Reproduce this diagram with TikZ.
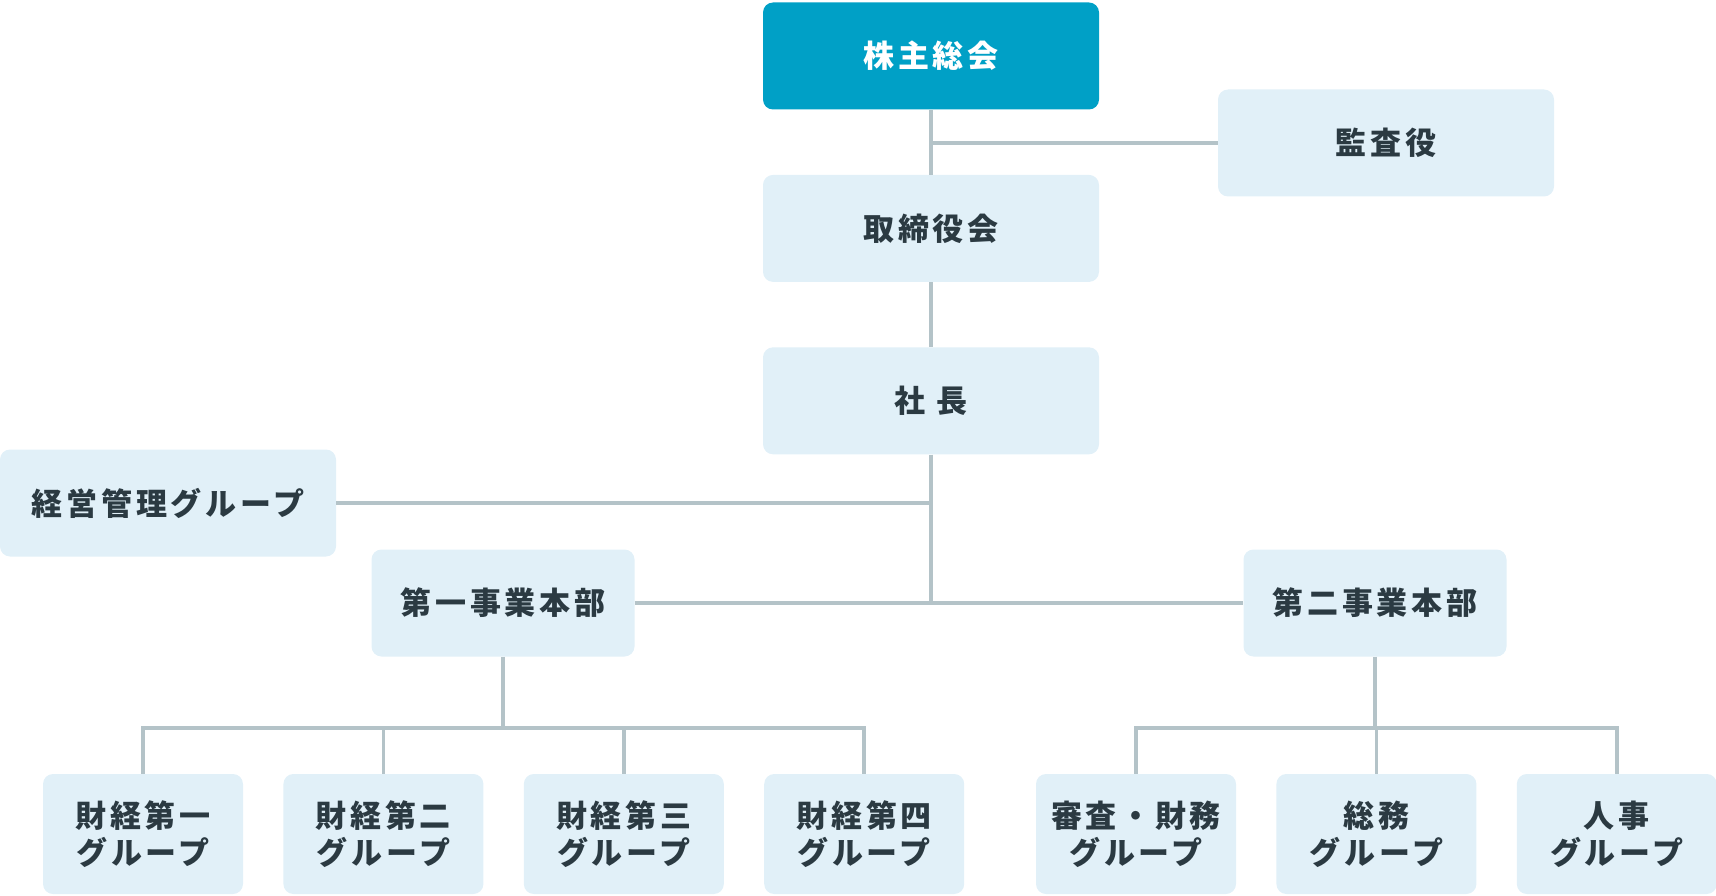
\documentclass[tikz,border=0pt]{standalone}
\usepackage{fontspec}
\setmainfont{Noto Sans CJK JP}
\usetikzlibrary{positioning}
\definecolor{topblue}{RGB}{0,160,198}
\definecolor{boxblue}{RGB}{225,240,248}
\definecolor{linegray}{RGB}{180,195,200}
\definecolor{textdark}{RGB}{43,58,66}

\begin{document}
\begin{tikzpicture}[x=1pt, y=-1pt, node distance=65pt, box/.style={fill=boxblue, rounded corners=10pt, align=center, minimum width=336pt, minimum height=107pt, inner sep=0pt, text=textdark, font=\fontsize{31}{37}\selectfont\bfseries\addfontfeatures{LetterSpace=12}}, topbox/.style={box, fill=topblue, text=white}, unit/.style={box, minimum width=263pt}, group/.style={box, minimum width=200pt, minimum height=120pt}, link/.style={draw=linegray, line width=3.5pt}]

\useasboundingbox (0,0) rectangle (1716,896);
\node[topbox] (meeting) at (931,56) {株主総会};
\node[box, below=of meeting] (board) {取締役会};
\node[box, below=of board] (president) {社\ 長};
\node[box] (auditor) at (1386,143) {監査役};
\node[box] (admin) at (168,503) {経営管理グループ};
\node[unit] (div1) at (503,603) {第一事業本部};
\node[unit] (div2) at (1375,603) {第二事業本部};
\node[group] (g1) at (143,834) {財経第一\\グループ};
\node[group, right=40pt of g1] (g2) {財経第二\\グループ};
\node[group, right=40pt of g2] (g3) {財経第三\\グループ};
\node[group, right=40pt of g3] (g4) {財経第四\\グループ};
\node[group] (g5) at (1136,834) {審査・財務\\グループ};
\node[group, right=40pt of g5] (g6) {総務\\グループ};
\node[group, right=40pt of g6] (g7) {人事\\グループ};
\coordinate (hub) at (931,603);
\coordinate (bus1) at (503,728);
\coordinate (bus2) at (1375,728);
\draw[link](meeting)--(board);\draw[link](board)--(president);\draw[link](president)--(hub);\draw[link](div1)--(div2);
\draw[link](auditor.west)--(auditor.west -| meeting.south);\draw[link](admin.east)--(admin.east -| president.south);
\draw[link](div1)--(bus1);\draw[link](g1.north)|-(bus1)-|(g4.north);\draw[link](g2.north)--(g2.north |- bus1);\draw[link](g3.north)--(g3.north |- bus1);
\draw[link](div2)--(bus2);\draw[link](g5.north)|-(bus2)-|(g7.north);\draw[link](g6.north)--(g6.north |- bus2);

\end{tikzpicture}
\end{document}
